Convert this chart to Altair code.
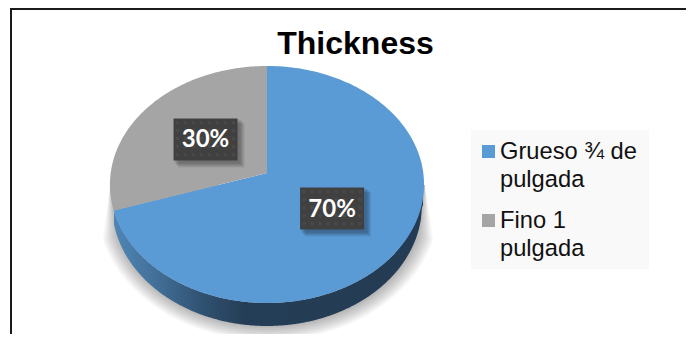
import altair as alt
import numpy as np
import pandas as pd

TITLE = "Thickness"
CATEGORIES = ["Grueso ¾ de pulgada", "Fino 1 pulgada"]
LEGEND_LINES = [["Grueso ¾ de", "pulgada"], ["Fino 1", "pulgada"]]
SHARES = [70, 30]
COLORS = ["#5B9BD5", "#A5A5A5"]

# page-pixel frame
X = alt.X("x:Q", axis=None, scale=alt.Scale(domain=[8, 686], nice=False, zero=False))
Y = alt.Y("y:Q", axis=None, scale=alt.Scale(domain=[334, 8], nice=False, zero=False))

CX, CY, RX, RY, K = 267.0, 173.0, 156.3, 117.4, -0.097


def project(t, r=1.0):
    u, v = r * np.sin(t), r * np.cos(t)
    d = 1 - K * v
    return CX + RX * u / d, CY - RY * v / d


def poly(xs, ys):
    return pd.DataFrame({"x": xs, "y": ys, "i": np.arange(len(xs))})


def filled(df, color, opacity=1.0):
    return (
        alt.Chart(df)
        .mark_line(fill=color, stroke=None, strokeWidth=0, fillOpacity=opacity, interpolate="linear", clip=True)
        .encode(x=X, y=Y, order=alt.Order("i:Q"))
    )


def wedge(start_share, end_share):
    t = np.radians(np.linspace(start_share, end_share, 200) * 3.6)
    xs, ys = project(t)
    return poly(np.r_[CX, xs, CX], np.r_[CY, ys, CY])


def box(x0, y0, x1, y1, color, opacity=1.0):
    return (
        alt.Chart(pd.DataFrame({"x": [x0], "x2": [x1], "y": [y0], "y2": [y1]}))
        .mark_rect(color=color, opacity=opacity, strokeWidth=0)
        .encode(x=X, x2="x2:Q", y=Y, y2="y2:Q")
    )


layers = []

# frame
layers.append(box(10, 8, 686, 10, "#1a1a1a"))
layers.append(box(10, 8, 12, 334, "#1a1a1a"))

# soft shadow below the pie
OX, OY, ORX, ORY = 267.0, 205.0, 155.0, 121.0
for d in np.arange(0, 16, 1.5):
    t = np.radians(np.linspace(-75, 75, 200))
    sx = OX + 1 + (ORX + 1 + d) * np.sin(t)
    sy = np.minimum(OY + (ORY + 1 + d * 0.9) * np.cos(t), 334)
    xs = np.r_[110, sx, 425]
    ys = np.r_[185, sy, 185]
    layers.append(filled(poly(xs, ys), "#000000", 0.026))

# side wall
xs = np.linspace(114, 423, 300)
surface_t = np.radians(np.linspace(60, 260, 1200))
px, py = project(surface_t)
idx = np.argsort(px)
surf = np.interp(xs, px[idx], py[idx])
outer = OY + ORY * np.sqrt(np.clip(1 - ((xs - OX) / ORX) ** 2, 0, 1))
side = pd.DataFrame({"x": xs, "y": surf, "y2": np.maximum(outer, surf)})
grad = alt.Gradient(
    gradient="linear", x1=0, y1=0, x2=1, y2=0,
    stops=[
        alt.GradientStop(offset=0, color="#4F86B6"),
        alt.GradientStop(offset=0.12, color="#44729C"),
        alt.GradientStop(offset=0.3, color="#2E4F6E"),
        alt.GradientStop(offset=0.42, color="#253E57"),
        alt.GradientStop(offset=1, color="#233C53"),
    ],
)
layers.append(
    alt.Chart(side).mark_area(color=grad, interpolate="linear").encode(x=X, y=Y, y2="y2:Q")
)

# top surface (clockwise from twelve o'clock)
layers.append(filled(wedge(0, SHARES[0]), COLORS[0]))
layers.append(filled(wedge(SHARES[0], SHARES[0] + SHARES[1]), COLORS[1]))

# data labels at the wedge midpoints
start = 0
for share in SHARES:
    mid = np.radians((start + share / 2) * 3.6)
    lx, ly = project(mid, 0.5)
    lx, ly = float(lx), float(ly)
    for off in (7, 6, 5, 4, 3):
        layers.append(box(lx - 32 + off - 2, ly - 21 + off - 2, lx + 32 + off, ly + 21 + off, "#000000", 0.07))
    layers.append(box(lx - 32, ly - 21, lx + 32, ly + 21, "#404040"))
    gx, gy = np.meshgrid(np.arange(lx - 28, lx + 32, 8.0), np.arange(ly - 17, ly + 21, 8.0))
    dots = pd.DataFrame({"x": gx.ravel(), "y": gy.ravel()})
    layers.append(
        alt.Chart(dots)
        .mark_circle(color="#ffffff", opacity=0.05, size=14)
        .encode(x=X, y=Y)
    )
    layers.append(
        alt.Chart(pd.DataFrame({"x": [lx], "y": [ly + 8], "t": [f"{share}%"]}))
        .mark_text(font="Lato", fontWeight="bold", fontSize=24, color="#ffffff", baseline="alphabetic", align="center")
        .encode(x=X, y=Y, text="t:N")
    )
    start += share

# title
layers.append(
    alt.Chart(pd.DataFrame({"x": [355.5], "y": [54], "t": [TITLE]}))
    .mark_text(font="Liberation Sans", fontWeight="bold", fontSize=32, color="#000000", baseline="alphabetic", align="center")
    .encode(x=X, y=Y, text="t:N")
)

# legend
layers.append(box(471, 130, 649, 269, "#F9F9F9"))
rows = [(145, 159, 187), (214, 228, 256)]
for (top, b1, b2), col, lines in zip(rows, COLORS, LEGEND_LINES):
    layers.append(box(482, top, 495, top + 13, col))
    legend_text = pd.DataFrame({"x": [500, 500], "y": [b1, b2], "t": lines})
    layers.append(
        alt.Chart(legend_text)
        .mark_text(font="Liberation Sans", fontSize=23.7, color="#111111", baseline="alphabetic", align="left")
        .encode(x=X, y=Y, text="t:N")
    )

chart = (
    alt.layer(*layers)
    .properties(width=678, height=326, padding=0, autosize=alt.AutoSizeParams(type="none"), background="#ffffff")
    .configure_view(stroke=None)
)
chart.save("out.html", embed_options={"renderer": "svg", "actions": False})
